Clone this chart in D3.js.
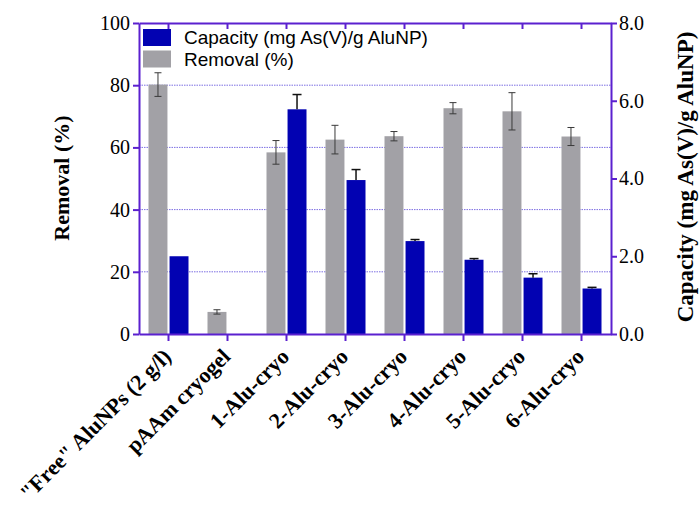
<!DOCTYPE html>
<html>
<head>
<meta charset="utf-8">
<script src="https://cdn.jsdelivr.net/npm/d3@7"></script>
<style>
  body { margin: 0; background: #fff; }
  svg { display: block; }
</style>
</head>
<body>
<div id="chart"></div>
<script>
// Chart data.
var categories = ["\"Free\" AluNPs (2 g/l)", "pAAm cryogel", "1-Alu-cryo", "2-Alu-cryo",
                  "3-Alu-cryo", "4-Alu-cryo", "5-Alu-cryo", "6-Alu-cryo"];
var removal = [80.2, 7.1, 58.4, 62.5, 63.6, 72.6, 71.6, 63.5];
var removalErr = [3.8, 0.7, 3.8, 4.6, 1.5, 1.8, 6.0, 2.9];
var capacity = [2.0, 0, 5.78, 3.96, 2.39, 1.91, 1.45, 1.17];
var capacityErr = [0, 0, 0.38, 0.27, 0.04, 0.03, 0.1, 0.03];
var leftTicks = [0, 20, 40, 60, 80, 100];
var rightTicks = [0, 2, 4, 6, 8];
var gridValues = [20, 40, 60, 80];

var width = 700, height = 505;
var plotLeft = 139, plotRight = 611, plotTop = 23, plotBottom = 334;
var axisColor = "#5b20cf";
var blue = "#0202b2", gray = "#a2a1a6";
var serif = "'Liberation Serif', 'Times New Roman', serif";
var sans = "'Liberation Sans', Arial, sans-serif";

var svg = d3.select("#chart").append("svg")
    .attr("width", width)
    .attr("height", height);

var x = d3.scaleBand().domain(categories).range([plotLeft, plotRight]).padding(0);
var xSub = d3.scaleBand().domain(["removal", "capacity"]).range([0, 40]).paddingInner(0.1);
var yLeft = d3.scaleLinear().domain([0, 100]).range([plotBottom, plotTop]);
var yRight = d3.scaleLinear().domain([0, 8]).range([plotBottom, plotTop]);

// dotted grid lines
svg.append("g").selectAll("line")
  .data(gridValues)
  .enter().append("line")
    .attr("x1", plotLeft).attr("x2", plotRight)
    .attr("y1", function(d) { return yLeft(d); })
    .attr("y2", function(d) { return yLeft(d); })
    .attr("stroke", "#7c6ee2")
    .attr("stroke-width", 1)
    .attr("stroke-dasharray", "1.5,1");

var groups = svg.append("g").selectAll("g")
  .data(categories)
  .enter().append("g")
    .attr("transform", function(d) { return "translate(" + (x(d) + x.bandwidth() / 2 - 20) + ",0)"; });

// removal bars (left axis)
groups.append("rect")
    .attr("x", xSub("removal"))
    .attr("width", xSub.bandwidth())
    .attr("y", function(d, i) { return yLeft(removal[i]); })
    .attr("height", function(d, i) { return plotBottom - yLeft(removal[i]); })
    .attr("fill", gray);

// capacity bars (right axis)
groups.append("rect")
    .attr("x", xSub("capacity"))
    .attr("width", xSub.bandwidth())
    .attr("y", function(d, i) { return yRight(capacity[i]); })
    .attr("height", function(d, i) { return plotBottom - yRight(capacity[i]); })
    .attr("fill", blue);

// error bars
var remCx = xSub("removal") + xSub.bandwidth() / 2;
groups.each(function(d, i) {
  var g = d3.select(this);
  var hi = yLeft(removal[i] + removalErr[i]), lo = yLeft(removal[i] - removalErr[i]);
  g.append("line").attr("x1", remCx).attr("x2", remCx).attr("y1", hi).attr("y2", lo)
    .attr("stroke", "#3a3a3a").attr("stroke-width", 1);
  g.selectAll(null).data([hi, lo]).enter().append("line")
    .attr("x1", remCx - 3.5).attr("x2", remCx + 3.5)
    .attr("y1", function(v) { return v; }).attr("y2", function(v) { return v; })
    .attr("stroke", "#3a3a3a").attr("stroke-width", 1);

  if (capacityErr[i] > 0) {
    var capCx = xSub("capacity") + xSub.bandwidth() / 2;
    var chi = yRight(capacity[i] + capacityErr[i]), clo = yRight(capacity[i]);
    g.append("line").attr("x1", capCx).attr("x2", capCx).attr("y1", chi).attr("y2", clo)
      .attr("stroke", "#111").attr("stroke-width", 1.5);
    g.append("line").attr("x1", capCx - 4.5).attr("x2", capCx + 4.5).attr("y1", chi).attr("y2", chi)
      .attr("stroke", "#111").attr("stroke-width", 1.5);
  }
});

// axes
function styleAxis(g) {
  g.select(".domain").attr("stroke", axisColor).attr("stroke-width", 2);
  g.selectAll(".tick line").attr("stroke", axisColor).attr("stroke-width", 2);
  g.selectAll("text").attr("fill", "#000").attr("font-family", serif).attr("font-size", 20);
}

svg.append("g")
    .attr("transform", "translate(" + plotLeft + ",0)")
    .call(d3.axisLeft(yLeft).tickValues(leftTicks).tickSize(6).tickPadding(3).tickSizeOuter(0))
    .call(styleAxis);

svg.append("g")
    .attr("transform", "translate(" + plotRight + ",0)")
    .call(d3.axisRight(yRight).tickValues(rightTicks).tickFormat(d3.format(".1f")).tickSize(6).tickPadding(2).tickSizeOuter(0))
    .call(styleAxis);

svg.append("g")
    .attr("transform", "translate(0," + plotTop + ")")
    .call(d3.axisBottom(x).tickSize(6).tickSizeOuter(0).tickFormat(""))
    .call(styleAxis);

var xAxis = svg.append("g")
    .attr("transform", "translate(0," + plotBottom + ")")
    .call(d3.axisBottom(x).tickSize(7).tickSizeOuter(0))
    .call(styleAxis);

xAxis.selectAll(".tick text")
    .attr("font-weight", "bold")
    .attr("font-size", 22)
    .attr("text-anchor", "end")
    .attr("y", 0).attr("dy", 0)
    .attr("transform", "translate(4,24) rotate(-45)");

// axis titles
svg.append("text")
    .attr("transform", "translate(69,178) rotate(-90)")
    .attr("text-anchor", "middle")
    .attr("font-family", serif).attr("font-weight", "bold").attr("font-size", 22)
    .text("Removal (%)");

svg.append("text")
    .attr("transform", "translate(693,177) rotate(-90)")
    .attr("text-anchor", "middle")
    .attr("font-family", serif).attr("font-weight", "bold").attr("font-size", 23)
    .text("Capacity (mg As(V)/g AluNP)");

// legend
var legendItems = [{label: "Capacity (mg As(V)/g AluNP)", color: blue},
                   {label: "Removal (%)", color: gray}];
var legend = svg.append("g").selectAll("g")
  .data(legendItems)
  .enter().append("g")
    .attr("transform", function(d, i) { return "translate(143," + (29 + i * 21.5) + ")"; });
legend.append("rect")
    .attr("width", 28).attr("height", 17)
    .attr("fill", function(d) { return d.color; });
legend.append("text")
    .attr("x", 41).attr("y", 15)
    .attr("font-family", sans).attr("font-size", 19)
    .text(function(d) { return d.label; });
</script>
</body>
</html>
